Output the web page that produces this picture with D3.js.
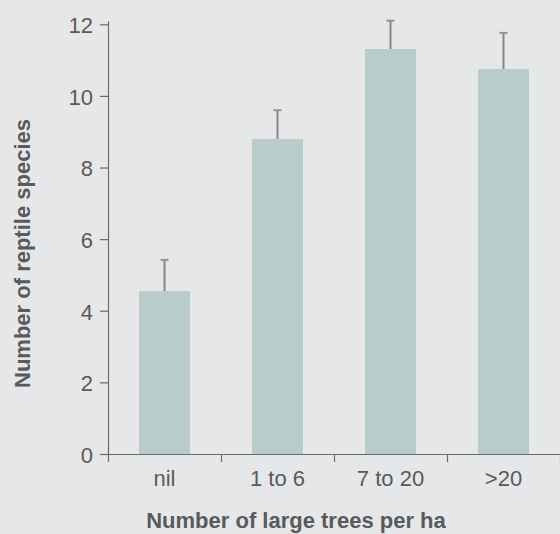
<!DOCTYPE html>
<html>
<head>
<meta charset="utf-8">
<script src="https://cdn.jsdelivr.net/npm/d3@7"></script>
<style>
  html, body { margin: 0; padding: 0; background: #e6e7e9; }
  svg { display: block; }
  text { font-family: "Liberation Sans", Arial, Helvetica, sans-serif; fill: #595a5c; }
</style>
</head>
<body>
<svg id="chart" width="560" height="534"></svg>
<script>
// Data
const categories = ["nil", "1 to 6", "7 to 20", ">20"];
const means = [4.55, 8.8, 11.31, 10.75];
const upperErrors = [5.42, 9.6, 12.1, 11.76];
const yTicks = [0, 2, 4, 6, 8, 10, 12];
const xTitle = "Number of large trees per ha";
const yTitle = "Number of reptile species";

const W = 560, H = 534;
const margin = { left: 108, right: 0, top: 20.7, bottom: 80 };
const svg = d3.select("#chart");

const x = d3.scaleBand().domain(categories).range([margin.left, W - margin.right]).paddingInner(0).paddingOuter(0);
const xEdges = d3.scaleLinear().domain([0, categories.length]).range([margin.left, W - margin.right]);
const y = d3.scaleLinear().domain([0, 12.1]).range([H - margin.bottom, margin.top]);

const axisColor = "#6a6b6d";
const barColor = "#b8cdca";
const barW = 51;

// Bars
svg.append("g").selectAll("rect").data(categories).join("rect")
  .attr("x", d => x(d) + x.bandwidth() / 2 - barW / 2)
  .attr("y", (d, i) => y(means[i]))
  .attr("width", barW)
  .attr("height", (d, i) => y(0) - y(means[i]))
  .attr("fill", barColor);

// Error bars
const eb = svg.append("g");
eb.selectAll("line.v").data(categories).join("line")
  .attr("class", "v")
  .attr("x1", d => x(d) + x.bandwidth() / 2)
  .attr("x2", d => x(d) + x.bandwidth() / 2)
  .attr("y1", (d, i) => y(means[i]))
  .attr("y2", (d, i) => y(upperErrors[i]))
  .attr("stroke", "#858688").attr("stroke-width", 2);
eb.selectAll("line.c").data(categories).join("line")
  .attr("class", "c")
  .attr("x1", d => x(d) + x.bandwidth() / 2 - 4)
  .attr("x2", d => x(d) + x.bandwidth() / 2 + 4)
  .attr("y1", (d, i) => y(upperErrors[i]))
  .attr("y2", (d, i) => y(upperErrors[i]))
  .attr("stroke", "#939496").attr("stroke-width", 2);

// Y axis
const yAxis = svg.append("g").attr("transform", `translate(${margin.left},0)`)
  .call(d3.axisLeft(y).tickValues(yTicks).tickSize(8).tickPadding(7).tickSizeOuter(0));
yAxis.select(".domain").attr("stroke", axisColor).attr("stroke-width", 1.2);
yAxis.selectAll(".tick line").attr("stroke", axisColor).attr("stroke-width", 1.2);
yAxis.selectAll(".tick text").attr("font-size", 22).attr("dy", "0.38em")
  .style("font-family", "'Liberation Sans', Arial, sans-serif").attr("fill", "#595a5c");

// X axis: boundary ticks
const xTickAxis = svg.append("g").attr("transform", `translate(0,${y(0)})`)
  .call(d3.axisBottom(xEdges).tickValues(d3.range(categories.length + 1)).tickFormat("").tickSize(8).tickSizeOuter(0));
xTickAxis.select(".domain").attr("stroke", axisColor).attr("stroke-width", 1.2);
xTickAxis.selectAll(".tick line").attr("stroke", axisColor).attr("stroke-width", 1.2);

// X axis: labels
const xLab = svg.append("g").attr("transform", `translate(0,${y(0)})`)
  .call(d3.axisBottom(x).tickSize(0).tickPadding(16));
xLab.select(".domain").remove();
xLab.selectAll(".tick text").attr("font-size", 22)
  .style("font-family", "'Liberation Sans', Arial, sans-serif").attr("fill", "#595a5c");

// Titles
svg.append("text")
  .attr("x", 296).attr("y", 528)
  .attr("text-anchor", "middle")
  .attr("font-size", 22).attr("font-weight", "bold")
  .text(xTitle);

svg.append("text")
  .attr("transform", "translate(29.5,253.5) rotate(-90)")
  .attr("text-anchor", "middle")
  .attr("font-size", 22).attr("font-weight", "bold")
  .text(yTitle);
</script>
</body>
</html>
